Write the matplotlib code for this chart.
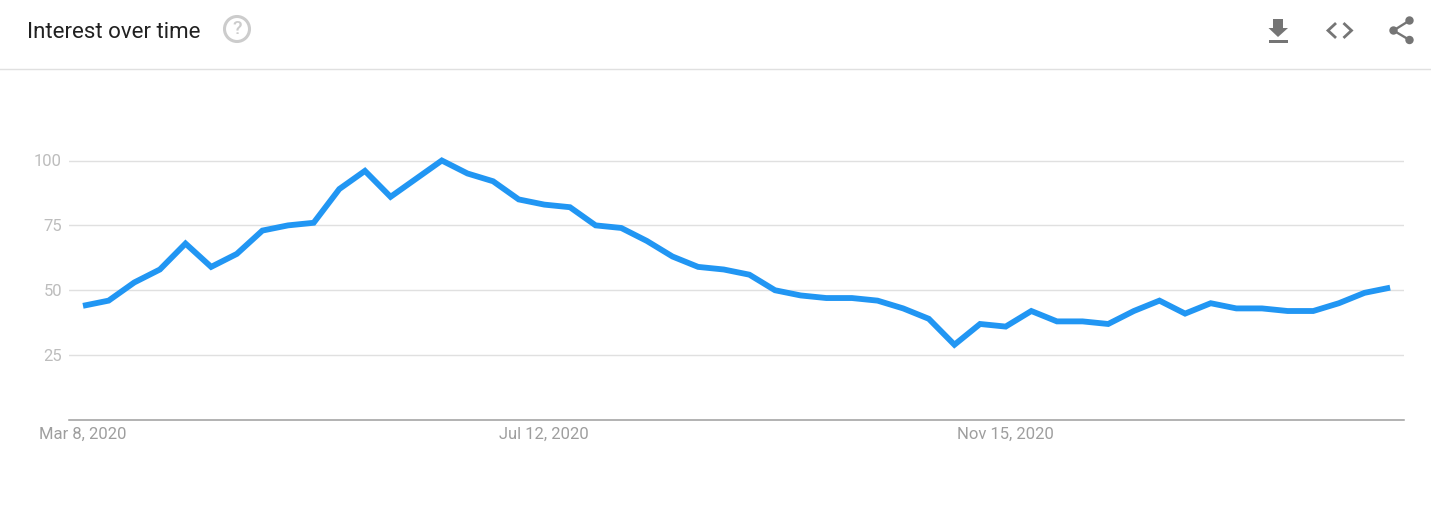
import matplotlib
matplotlib.use("Agg")
import matplotlib.pyplot as plt
from matplotlib.patches import Circle, Polygon, Rectangle

plt.rcParams["font.family"] = ["Roboto", "DejaVu Sans"]

# ── Data ───────────────────────────────────────────────────────────────────────

weeks = list(range(52))
interest = [44, 46, 53, 58, 68, 59, 64, 73, 75, 76, 89, 96, 86, 93, 100, 95, 92, 85,
            83, 82, 75, 74, 69, 63, 59, 58, 56, 50, 48, 47, 47, 46, 43, 39, 29, 37,
            36, 42, 38, 38, 37, 42, 46, 41, 45, 43, 43, 42, 42, 45, 49, 51]
y_ticks = [25, 50, 75, 100]
x_ticks = [0, 18, 36]
x_labels = ["Mar 8, 2020", "Jul 12, 2020", "Nov 15, 2020"]

W, H = 1431, 513
BLUE = "#2196f3"
GRID = "#e0e0e0"
ICON = "#757575"

fig = plt.figure(figsize=(W / 100, H / 100), dpi=100, facecolor="white")

# ── Chart ──────────────────────────────────────────────────────────────────────

left, right, top, bottom = 69, 1404, 140, 420
ax = fig.add_axes([left / W, 1 - bottom / H, (right - left) / W, (bottom - top) / H])
step = 25.63
ax.set_xlim(-(83 - left) / step, (right - 83) / step)
ax.set_ylim(0, (bottom - top) / 2.595)

# the reference line is clipped flat at the top of the 100 peak, as a miter join would not be
ax.plot(weeks, interest, color=BLUE, linewidth=4.2, solid_joinstyle="miter",
        solid_capstyle="butt", zorder=3, clip_on=False)

for s in ["top", "right", "left"]:
    ax.spines[s].set_visible(False)
ax.spines["bottom"].set_color("#9e9e9e")
ax.spines["bottom"].set_linewidth(1.1)

ax.set_yticks(y_ticks)
ax.yaxis.grid(True, color=GRID, linewidth=1.0)
ax.set_axisbelow(True)
ax.tick_params(axis="y", length=0, pad=5, labelsize=12, labelcolor="#bdbdbd")
ax.set_xticks(x_ticks, x_labels)
ax.tick_params(axis="x", length=0, pad=5, labelsize=12, labelcolor="#9e9e9e")

# ── Header, in pixel coordinates ───────────────────────────────────────────────

ov = fig.add_axes([0, 0, 1, 1], facecolor="none")
ov.set_xlim(0, W)
ov.set_ylim(H, 0)
ov.axis("off")

ov.plot([0, W], [69, 69], color=GRID, linewidth=1.0)
ov.text(27, 32, "Interest over time", fontsize=16.05, color="#212121", va="center", ha="left")

ov.add_patch(Circle((237, 29), 12.5, facecolor="none", edgecolor="#cccccc", linewidth=2.2))
ov.text(237, 29.5, "?", fontsize=14, color="#cccccc", fontweight="medium", ha="center", va="center")

# download
ov.add_patch(Polygon([(1273, 19), (1283, 19), (1283, 28), (1288, 28), (1278, 37),
                      (1268.5, 28), (1273, 28)], closed=True, facecolor=ICON, edgecolor="none"))
ov.add_patch(Rectangle((1268.5, 40), 19.5, 3, facecolor=ICON, edgecolor="none"))

# embed
ov.plot([1335, 1328, 1335], [24, 30.5, 37], color=ICON, linewidth=2.0, solid_joinstyle="miter")
ov.plot([1344.5, 1351.5, 1344.5], [24, 30.5, 37], color=ICON, linewidth=2.0, solid_joinstyle="miter")

# share
ov.plot([1409.5, 1393.5, 1409.5], [20.5, 30.5, 40], color=ICON, linewidth=1.7)
ov.add_patch(Circle((1409.5, 20.5), 4.2, facecolor=ICON, edgecolor="none"))
ov.add_patch(Circle((1393.5, 30.5), 4.2, facecolor=ICON, edgecolor="none"))
ov.add_patch(Circle((1409.5, 40), 4.2, facecolor=ICON, edgecolor="none"))

fig.savefig("out.png", dpi=100)
